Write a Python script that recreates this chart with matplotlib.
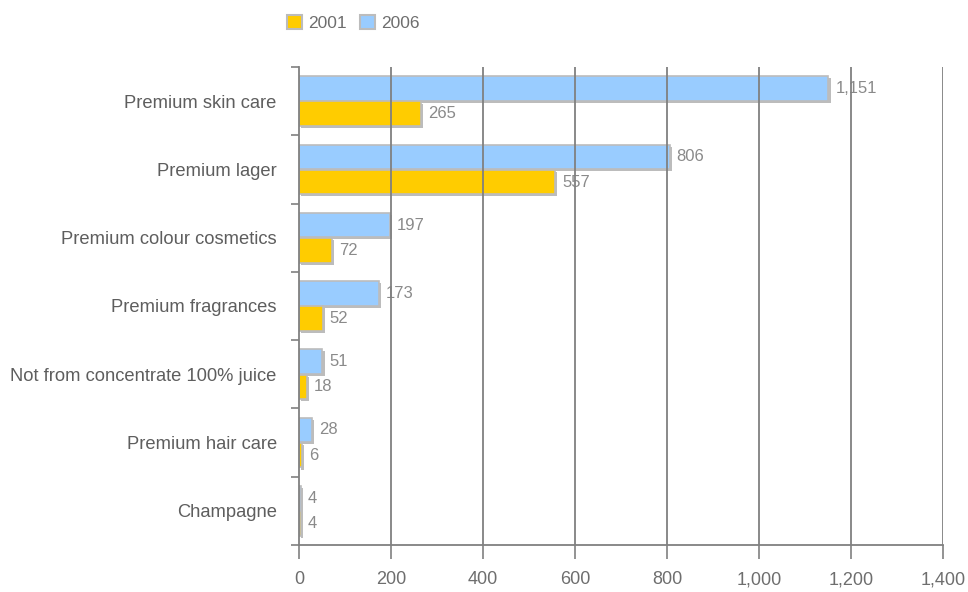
import matplotlib.pyplot as plt
import matplotlib.patheffects as pe
from matplotlib.patches import Patch
import numpy as np

plt.rcParams['font.family'] = ['Liberation Sans', 'DejaVu Sans']

categories = ["Premium skin care", "Premium lager", "Premium colour cosmetics",
              "Premium fragrances", "Not from concentrate 100% juice",
              "Premium hair care", "Champagne"]
vals_2006 = [1151, 806, 197, 173, 51, 28, 4]
vals_2001 = [265, 557, 72, 52, 18, 6, 4]
labels_2006 = ["1,151", "806", "197", "173", "51", "28", "4"]
labels_2001 = ["265", "557", "72", "52", "18", "6", "4"]
x_ticks = [0, 200, 400, 600, 800, 1000, 1200, 1400]

BLUE = "#99ccff"
YELLOW = "#ffcc00"
EDGE = "#bcbcbc"
AXIS = "#808080"
TXT = "#6e6e6e"

fig = plt.figure(figsize=(9.68, 5.92), dpi=100)
ax = fig.add_axes([299 / 968, 1 - 545 / 592, (943 - 299) / 968, (545 - 67) / 592])

y = np.arange(len(categories))
h = 0.36
off = 0.185
shadow = [pe.SimplePatchShadow(offset=(1.5, -1.5), shadow_rgbFace=EDGE, alpha=1), pe.Normal()]

b06 = ax.barh(y - off, vals_2006, height=h, color=BLUE, edgecolor=EDGE, linewidth=1.2, zorder=2)
b01 = ax.barh(y + off, vals_2001, height=h, color=YELLOW, edgecolor=EDGE, linewidth=1.2, zorder=2)
for b in list(b06) + list(b01):
    b.set_path_effects(shadow)

for yi, v, s in zip(y - off, vals_2006, labels_2006):
    ax.annotate(s, (v, yi), xytext=(5, 0), textcoords="offset points",
                va="center", ha="left", fontsize=12, color="#8a8a8a", zorder=3)
for yi, v, s in zip(y + off, vals_2001, labels_2001):
    ax.annotate(s, (v, yi), xytext=(5, 0), textcoords="offset points",
                va="center", ha="left", fontsize=12, color="#8a8a8a", zorder=3)

ax.set_xlim(0, 1400)
ax.set_ylim(len(categories) - 0.5, -0.5)

# vertical grid drawn above the value labels
for t in x_ticks[1:]:
    ax.axvline(t, color=AXIS, linewidth=1.3, zorder=4)

ax.set_xticks(x_ticks)
ax.set_xticklabels([f"{t:,}" for t in x_ticks])
ax.tick_params(axis="x", length=10, width=1.2, color=AXIS, pad=9,
               labelsize=13, labelcolor=TXT)

ax.set_yticks(y)
ax.set_yticklabels(categories)
ax.set_yticks(np.arange(-0.5, len(categories)), minor=True)
ax.tick_params(axis="y", which="major", length=0, pad=16, labelsize=13.2, labelcolor="#5e5e5e")
ax.tick_params(axis="y", which="minor", length=6, width=1.2, color=AXIS)

for side in ["top", "right"]:
    ax.spines[side].set_visible(False)
for side in ["left", "bottom"]:
    ax.spines[side].set_color(AXIS)
    ax.spines[side].set_linewidth(1.3)

handles = [Patch(facecolor=YELLOW, edgecolor=EDGE, linewidth=1.5, label="2001"),
           Patch(facecolor=BLUE, edgecolor=EDGE, linewidth=1.5, label="2006")]
fig.legend(handles=handles, loc="center left", bbox_to_anchor=(287 / 968, 1 - 23 / 592),
           ncol=2, frameon=False, fontsize=12.5, labelcolor=TXT,
           handlelength=0.85, handleheight=0.85, handletextpad=0.35,
           columnspacing=0.8, borderpad=0, borderaxespad=0)

fig.savefig("out.png", dpi=100)
